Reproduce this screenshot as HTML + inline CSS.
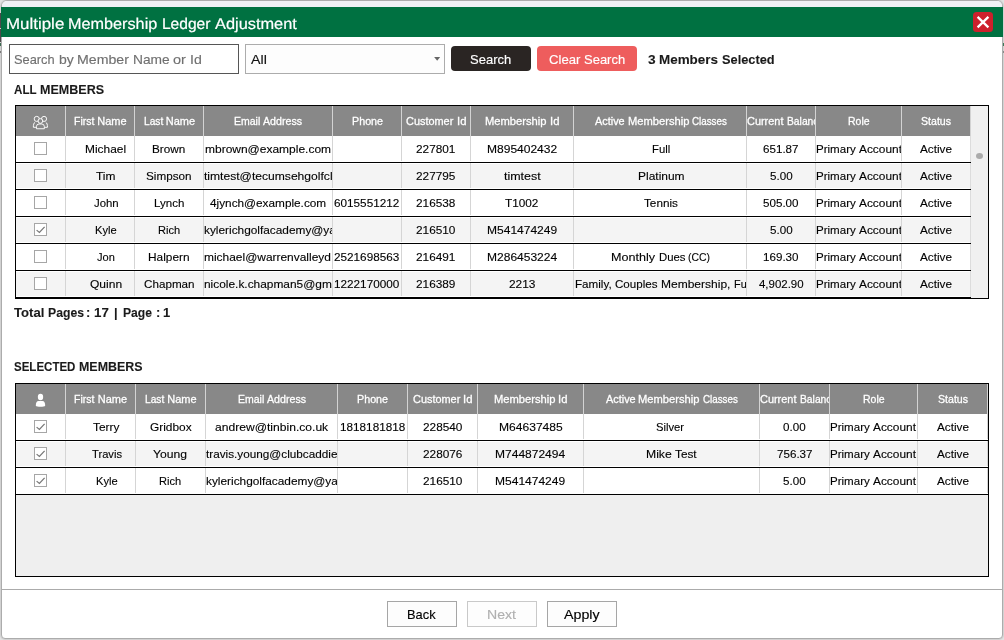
<!DOCTYPE html>
<html lang="en"><head><meta charset="utf-8">
<title>Multiple Membership Ledger Adjustment</title>
<style>
html,body{margin:0;padding:0;}
body{width:1004px;height:640px;overflow:hidden;background:#fff;position:relative;
 font-family:"Liberation Sans", sans-serif;}
#r{position:absolute;left:0;top:0;width:1004px;height:640px;overflow:hidden;background:#e2e2e2;}
#r div,#r svg,#r span,.g{position:absolute;box-sizing:border-box;}
.g{left:0;top:0;width:0;height:0;display:block;}
.win{left:1px;top:0;width:1002px;height:639px;border:1px solid #acacac;border-radius:6px 6px 4px 4px;
 background:#fff;box-shadow:0 0 0 1px #d2d2d2;}
.close{left:973px;top:12px;width:20px;height:20px;border-radius:3.5px;background:#cd202c;}
.inp{border:1px solid #565656;background:#fff;}
.cmb{border:1px solid #acacac;background:#fdfdfd;}
.btn-d{background:#2a2523;border-radius:4px;}
.btn-r{background:#ee5d5d;border-radius:4px;}
.cb{width:13px;height:13px;border:1px solid #a6a6a6;background:#fff;}
.fb{width:70px;height:26px;border:1px solid #a6a6a6;background:#fdfdfd;}
.fb.dis{border-color:#c9c9c9;}
.c{overflow:hidden;}
.t{white-space:nowrap;transform-origin:0 0;line-height:1;display:block;}
#r span.w{position:static;display:inline-block;transform-origin:0 0;white-space:nowrap;}
</style></head><body><div id="r">
<div class="g frame">
<div class="win"></div>
<div style="left:2px;top:1px;width:1000px;height:6px;background:#f0f1f5;border-radius:5px 5px 0 0;"></div>
<div style="left:1px;top:7px;width:1002px;height:30px;background:#007141;"></div>
<div style="left:0px;top:13px;width:1px;height:15px;background:#4a4a4a;"></div>
<div style="left:0px;top:29px;width:1px;height:13px;background:#4a4a4a;"></div>
<div style="left:0px;top:43px;width:1px;height:3px;background:#3c6a50;"></div>
<div style="left:0px;top:51px;width:1px;height:2px;background:#7a7a7a;"></div>
<div style="left:1003px;top:43px;width:1px;height:3px;background:#3c7a58;"></div>
<div style="left:1003px;top:51px;width:1px;height:2px;background:#8a8a8a;"></div>
</div>
<header class="g titlebar">
<div class="close"><svg width="20" height="20" viewBox="0 0 20 20"><path d="M4.6 4.9 L15.4 15.4 M15.4 4.9 L4.6 15.4" stroke="#fff" stroke-width="2.3" fill="none"/></svg></div>
<span class="t" style="left:5.6px;top:17px;font-size:15.6px;text-rendering:geometricPrecision;-webkit-text-stroke:0.2px #fff;color:#fff;"><span class="w m" style="width:58.29px;transform:scaleX(1.0848);">Multiple</span> <span class="w m" style="width:89.27px;margin-left:0.04px;transform:scaleX(1.0404);">Membership</span> <span class="w m" style="width:48.63px;margin-left:0.04px;">Ledger</span> <span class="w m" style="width:81.84px;margin-left:0.04px;transform:scaleX(1.0490);">Adjustment</span></span>
</header>
<div class="g toolbar">
<div class="inp" style="left:9px;top:44px;width:230px;height:30px;"></div>
<span class="t" style="left:14.4px;top:53px;font-size:13.5px;-webkit-text-stroke:0.15px #707070;color:#707070;"><span class="w m" style="width:40.6px;transform:scaleX(0.9490);">Search</span> <span class="w m" style="width:14.77px;margin-left:0.02px;transform:scaleX(1.0354);">by</span> <span class="w m" style="width:51.86px;margin-left:0.02px;transform:scaleX(1.0474);">Member</span> <span class="w m" style="width:36.68px;margin-left:0.02px;transform:scaleX(1.0185);">Name</span> <span class="w m" style="width:12.88px;margin-left:0.02px;transform:scaleX(1.0722);">or</span> <span class="w m" style="width:11.79px;margin-left:0.02px;transform:scaleX(1.0467);">Id</span></span>
<div class="cmb" style="left:245px;top:44px;width:200px;height:30px;"></div>
<svg style="left:433px;top:56px" width="9" height="6" viewBox="0 0 9 6"><path d="M1.15 1.1 L7.15 1.1 L4.15 4.75 Z" fill="#666"/></svg>
<span class="t m" style="left:250.6px;top:53px;font-size:13.5px;-webkit-text-stroke:0.15px #111;color:#111;transform:scaleX(1.0522);">All</span>
<div class="btn-d" style="left:451px;top:46px;width:80px;height:25px;"></div>
<span class="t m" style="left:470.4px;top:53px;font-size:13.5px;-webkit-text-stroke:0.15px #fff;color:#fff;transform:scaleX(0.9630);">Search</span>
<div class="btn-r" style="left:537px;top:46px;width:100px;height:25px;"></div>
<span class="t" style="left:548.6px;top:53px;font-size:13.5px;-webkit-text-stroke:0.15px #fff;color:#fff;"><span class="w m" style="width:31.38px;transform:scaleX(0.9725);">Clear</span> <span class="w m" style="width:41.19px;margin-left:0.07px;transform:scaleX(0.9627);">Search</span></span>
<span class="t" style="left:648px;top:53px;font-size:13px;-webkit-text-stroke:0.1px #1a1a1a;font-weight:700;color:#1a1a1a;"><span class="w m" style="width:7.61px;transform:scaleX(1.0518);">3</span> <span class="w m" style="width:59px;margin-left:0.24px;transform:scaleX(1.0337);">Members</span> <span class="w m" style="width:52.66px;margin-left:0.24px;transform:scaleX(0.9845);">Selected</span></span>
</div>
<section class="g grid all-members">
<span class="t" style="left:13.6px;top:83px;font-size:13px;-webkit-text-stroke:0.1px #1a1a1a;font-weight:700;color:#1a1a1a;"><span class="w m" style="width:22.56px;transform:scaleX(0.8925);">ALL</span> <span class="w m" style="width:64.14px;margin-left:0.27px;transform:scaleX(0.9652);">MEMBERS</span></span>
<div style="left:15px;top:105px;width:974px;height:194px;border:1px solid #000;background:#efefef"></div>
<div style="left:16px;top:106px;width:954px;height:30px;background:#888888;"></div>
<div style="left:970px;top:106px;width:18px;height:192px;background:#f0f0f0;"></div>
<div style="left:976px;top:153px;width:7px;height:6px;border-radius:3.5px/3px;background:#ababab"></div>
<div style="left:970px;top:136px;width:1px;height:162px;background:#dcdcdc;"></div>
<div style="left:16px;top:136px;width:954px;height:26px;background:#fff;"></div>
<div style="left:16px;top:162px;width:955px;height:1px;background:#000;"></div>
<div style="left:16px;top:163px;width:954px;height:26px;background:#fff;"></div>
<div style="left:16px;top:164px;width:954px;height:24px;background:#f4f4f4;"></div>
<div style="left:16px;top:189px;width:955px;height:1px;background:#000;"></div>
<div style="left:16px;top:190px;width:954px;height:26px;background:#fff;"></div>
<div style="left:16px;top:216px;width:955px;height:1px;background:#000;"></div>
<div style="left:16px;top:217px;width:954px;height:26px;background:#fff;"></div>
<div style="left:16px;top:218px;width:954px;height:24px;background:#f4f4f4;"></div>
<div style="left:16px;top:243px;width:955px;height:1px;background:#000;"></div>
<div style="left:16px;top:244px;width:954px;height:26px;background:#fff;"></div>
<div style="left:16px;top:270px;width:955px;height:1px;background:#000;"></div>
<div style="left:16px;top:271px;width:954px;height:26px;background:#fff;"></div>
<div style="left:16px;top:272px;width:954px;height:24px;background:#f4f4f4;"></div>
<div style="left:16px;top:297px;width:955px;height:1px;background:#000;"></div>
<div style="left:970px;top:106px;width:1px;height:30px;background:#d3d3d3;"></div>
<div style="left:65px;top:106px;width:1px;height:30px;background:#d3d3d3;"></div>
<div style="left:65px;top:136px;width:1px;height:25px;background:#d5d5d5;"></div>
<div style="left:65px;top:163px;width:1px;height:25px;background:#d5d5d5;"></div>
<div style="left:65px;top:190px;width:1px;height:25px;background:#d5d5d5;"></div>
<div style="left:65px;top:217px;width:1px;height:25px;background:#d5d5d5;"></div>
<div style="left:65px;top:244px;width:1px;height:25px;background:#d5d5d5;"></div>
<div style="left:65px;top:271px;width:1px;height:25px;background:#d5d5d5;"></div>
<div style="left:134px;top:106px;width:1px;height:30px;background:#d3d3d3;"></div>
<div style="left:134px;top:136px;width:1px;height:25px;background:#d5d5d5;"></div>
<div style="left:134px;top:163px;width:1px;height:25px;background:#d5d5d5;"></div>
<div style="left:134px;top:190px;width:1px;height:25px;background:#d5d5d5;"></div>
<div style="left:134px;top:217px;width:1px;height:25px;background:#d5d5d5;"></div>
<div style="left:134px;top:244px;width:1px;height:25px;background:#d5d5d5;"></div>
<div style="left:134px;top:271px;width:1px;height:25px;background:#d5d5d5;"></div>
<div style="left:203px;top:106px;width:1px;height:30px;background:#d3d3d3;"></div>
<div style="left:203px;top:136px;width:1px;height:25px;background:#d5d5d5;"></div>
<div style="left:203px;top:163px;width:1px;height:25px;background:#d5d5d5;"></div>
<div style="left:203px;top:190px;width:1px;height:25px;background:#d5d5d5;"></div>
<div style="left:203px;top:217px;width:1px;height:25px;background:#d5d5d5;"></div>
<div style="left:203px;top:244px;width:1px;height:25px;background:#d5d5d5;"></div>
<div style="left:203px;top:271px;width:1px;height:25px;background:#d5d5d5;"></div>
<div style="left:332px;top:106px;width:1px;height:30px;background:#d3d3d3;"></div>
<div style="left:332px;top:136px;width:1px;height:25px;background:#d5d5d5;"></div>
<div style="left:332px;top:163px;width:1px;height:25px;background:#d5d5d5;"></div>
<div style="left:332px;top:190px;width:1px;height:25px;background:#d5d5d5;"></div>
<div style="left:332px;top:217px;width:1px;height:25px;background:#d5d5d5;"></div>
<div style="left:332px;top:244px;width:1px;height:25px;background:#d5d5d5;"></div>
<div style="left:332px;top:271px;width:1px;height:25px;background:#d5d5d5;"></div>
<div style="left:401px;top:106px;width:1px;height:30px;background:#d3d3d3;"></div>
<div style="left:401px;top:136px;width:1px;height:25px;background:#d5d5d5;"></div>
<div style="left:401px;top:163px;width:1px;height:25px;background:#d5d5d5;"></div>
<div style="left:401px;top:190px;width:1px;height:25px;background:#d5d5d5;"></div>
<div style="left:401px;top:217px;width:1px;height:25px;background:#d5d5d5;"></div>
<div style="left:401px;top:244px;width:1px;height:25px;background:#d5d5d5;"></div>
<div style="left:401px;top:271px;width:1px;height:25px;background:#d5d5d5;"></div>
<div style="left:470px;top:106px;width:1px;height:30px;background:#d3d3d3;"></div>
<div style="left:470px;top:136px;width:1px;height:25px;background:#d5d5d5;"></div>
<div style="left:470px;top:163px;width:1px;height:25px;background:#d5d5d5;"></div>
<div style="left:470px;top:190px;width:1px;height:25px;background:#d5d5d5;"></div>
<div style="left:470px;top:217px;width:1px;height:25px;background:#d5d5d5;"></div>
<div style="left:470px;top:244px;width:1px;height:25px;background:#d5d5d5;"></div>
<div style="left:470px;top:271px;width:1px;height:25px;background:#d5d5d5;"></div>
<div style="left:573px;top:106px;width:1px;height:30px;background:#d3d3d3;"></div>
<div style="left:573px;top:136px;width:1px;height:25px;background:#d5d5d5;"></div>
<div style="left:573px;top:163px;width:1px;height:25px;background:#d5d5d5;"></div>
<div style="left:573px;top:190px;width:1px;height:25px;background:#d5d5d5;"></div>
<div style="left:573px;top:217px;width:1px;height:25px;background:#d5d5d5;"></div>
<div style="left:573px;top:244px;width:1px;height:25px;background:#d5d5d5;"></div>
<div style="left:573px;top:271px;width:1px;height:25px;background:#d5d5d5;"></div>
<div style="left:746px;top:106px;width:1px;height:30px;background:#d3d3d3;"></div>
<div style="left:746px;top:136px;width:1px;height:25px;background:#d5d5d5;"></div>
<div style="left:746px;top:163px;width:1px;height:25px;background:#d5d5d5;"></div>
<div style="left:746px;top:190px;width:1px;height:25px;background:#d5d5d5;"></div>
<div style="left:746px;top:217px;width:1px;height:25px;background:#d5d5d5;"></div>
<div style="left:746px;top:244px;width:1px;height:25px;background:#d5d5d5;"></div>
<div style="left:746px;top:271px;width:1px;height:25px;background:#d5d5d5;"></div>
<div style="left:815px;top:106px;width:1px;height:30px;background:#d3d3d3;"></div>
<div style="left:815px;top:136px;width:1px;height:25px;background:#d5d5d5;"></div>
<div style="left:815px;top:163px;width:1px;height:25px;background:#d5d5d5;"></div>
<div style="left:815px;top:190px;width:1px;height:25px;background:#d5d5d5;"></div>
<div style="left:815px;top:217px;width:1px;height:25px;background:#d5d5d5;"></div>
<div style="left:815px;top:244px;width:1px;height:25px;background:#d5d5d5;"></div>
<div style="left:815px;top:271px;width:1px;height:25px;background:#d5d5d5;"></div>
<div style="left:901px;top:106px;width:1px;height:30px;background:#d3d3d3;"></div>
<div style="left:901px;top:136px;width:1px;height:25px;background:#d5d5d5;"></div>
<div style="left:901px;top:163px;width:1px;height:25px;background:#d5d5d5;"></div>
<div style="left:901px;top:190px;width:1px;height:25px;background:#d5d5d5;"></div>
<div style="left:901px;top:217px;width:1px;height:25px;background:#d5d5d5;"></div>
<div style="left:901px;top:244px;width:1px;height:25px;background:#d5d5d5;"></div>
<div style="left:901px;top:271px;width:1px;height:25px;background:#d5d5d5;"></div>
<span class="t" style="left:73.96px;top:116px;font-size:11px;-webkit-text-stroke:0.28px #ffffff;color:#ffffff;"><span class="w m" style="width:20.32px;transform:scaleX(0.9500);">First</span> <span class="w m" style="width:29.34px;margin-left:-0.04px;">Name</span></span>
<span class="t" style="left:143.5px;top:116px;font-size:11px;-webkit-text-stroke:0.28px #ffffff;color:#ffffff;"><span class="w m" style="width:19.24px;transform:scaleX(0.9251);">Last</span> <span class="w m" style="width:29.34px;margin-left:-0.04px;">Name</span></span>
<span class="t" style="left:234.16px;top:116px;font-size:11px;-webkit-text-stroke:0.28px #ffffff;color:#ffffff;"><span class="w m" style="width:26.22px;transform:scaleX(0.9528);">Email</span> <span class="w m" style="width:39.04px;margin-left:-0.04px;transform:scaleX(0.9673);">Address</span></span>
<span class="t m" style="left:351.76px;top:116px;font-size:11px;-webkit-text-stroke:0.28px #ffffff;color:#ffffff;transform:scaleX(0.9768);">Phone</span>
<span class="t" style="left:406.43px;top:116px;font-size:11px;-webkit-text-stroke:0.28px #ffffff;color:#ffffff;"><span class="w m" style="width:47.28px;transform:scaleX(0.9915);">Customer</span> <span class="w m" style="width:9.43px;margin-left:-0.04px;transform:scaleX(1.0259);">Id</span></span>
<span class="t" style="left:485.31px;top:116px;font-size:11px;-webkit-text-stroke:0.28px #ffffff;color:#ffffff;"><span class="w m" style="width:61.54px;transform:scaleX(1.0166);">Membership</span> <span class="w m" style="width:9.42px;margin-left:-0.04px;transform:scaleX(1.0253);">Id</span></span>
<span class="t" style="left:595px;top:116px;font-size:11px;-webkit-text-stroke:0.28px #ffffff;color:#ffffff;"><span class="w m" style="width:29.63px;transform:scaleX(0.9888);">Active</span> <span class="w m" style="width:61.46px;margin-left:-0.04px;transform:scaleX(1.0154);">Membership</span> <span class="w m" style="width:34.86px;margin-left:-0.04px;transform:scaleX(0.8911);">Classes</span></span>
<div class="c" style="left:747px;top:106px;width:68px;height:30px"><span class="t" style="left:0.3px;top:10px;font-size:11px;-webkit-text-stroke:0.28px #ffffff;color:#ffffff;"><span class="w m" style="width:36.44px;transform:scaleX(0.9933);">Current</span> <span class="w m" style="width:31.5px;margin-left:-0.05px;transform:scaleX(0.9364);">Balanc</span></span></div>
<span class="t m" style="left:847.98px;top:116px;font-size:11px;-webkit-text-stroke:0.28px #ffffff;color:#ffffff;transform:scaleX(0.9565);">Role</span>
<span class="t m" style="left:921.3px;top:116px;font-size:11px;-webkit-text-stroke:0.28px #ffffff;color:#ffffff;transform:scaleX(0.9622);">Status</span>
<svg style="left:32px;top:106px" width="18" height="30" viewBox="0 0 18 30" fill="none" stroke="#fff" stroke-width="0.95"><circle cx="4.75" cy="12.9" r="2.55"/><circle cx="12.05" cy="12.9" r="2.55"/><path d="M3.0 16.3 C1.7 17.1 1.35 18.6 1.35 21.3 H4.3"/><path d="M13.8 16.3 C15.1 17.1 15.45 18.6 15.45 21.3 H12.5"/><circle cx="8.4" cy="15.0" r="2.35" fill="#888"/><path d="M4.45 22.75 V20.6 A2.6 2.6 0 0 1 7.05 18 H9.75 A2.6 2.6 0 0 1 12.35 20.6 V22.75 Z" fill="#888" stroke-linejoin="round"/></svg>
<div class="cb" style="left:34px;top:142px"></div>
<span class="t m" style="left:85.48px;top:144px;font-size:11.5px;-webkit-text-stroke:0.12px #000000;color:#000000;transform:scaleX(1.0352);">Michael</span>
<span class="t m" style="left:152.38px;top:144px;font-size:11.5px;-webkit-text-stroke:0.12px #000000;color:#000000;transform:scaleX(1.0193);">Brown</span>
<span class="t m" style="left:204.97px;top:144px;font-size:11.5px;-webkit-text-stroke:0.12px #000000;color:#000000;transform:scaleX(1.0421);">mbrown@example.com</span>
<span class="t m" style="left:416.29px;top:144px;font-size:11.5px;-webkit-text-stroke:0.12px #000000;color:#000000;transform:scaleX(1.0270);">227801</span>
<span class="t m" style="left:486.9px;top:144px;font-size:11.5px;-webkit-text-stroke:0.12px #000000;color:#000000;transform:scaleX(1.0452);">M895402432</span>
<span class="t m" style="left:651.7px;top:144px;font-size:11.5px;-webkit-text-stroke:0.12px #000000;color:#000000;transform:scaleX(0.9820);">Full</span>
<span class="t m" style="left:763.23px;top:144px;font-size:11.5px;-webkit-text-stroke:0.12px #000000;color:#000000;transform:scaleX(1.0102);">651.87</span>
<div class="c" style="left:816px;top:136px;width:85px;height:26px"><span class="t" style="left:0.1px;top:8px;font-size:11.5px;-webkit-text-stroke:0.12px #000000;color:#000000;"><span class="w m" style="width:39.8px;transform:scaleX(1.0045);">Primary</span> <span class="w m" style="width:42.96px;margin-left:0.04px;transform:scaleX(1.0335);">Account</span></span></div>
<span class="t m" style="left:920.01px;top:144px;font-size:11.5px;-webkit-text-stroke:0.12px #000000;color:#000000;transform:scaleX(1.0208);">Active</span>
<div class="cb" style="left:34px;top:169px"></div>
<span class="t m" style="left:96.29px;top:171px;font-size:11.5px;-webkit-text-stroke:0.12px #000000;color:#000000;transform:scaleX(1.0367);">Tim</span>
<span class="t m" style="left:146.25px;top:171px;font-size:11.5px;-webkit-text-stroke:0.12px #000000;color:#000000;transform:scaleX(1.0168);">Simpson</span>
<div class="c" style="left:204px;top:163px;width:128px;height:26px"><span class="t m" style="left:0.3px;top:8px;font-size:11.5px;-webkit-text-stroke:0.12px #000000;color:#000000;transform:scaleX(1.0518);">timtest@tecumsehgolfcl</span></div>
<span class="t m" style="left:416.29px;top:171px;font-size:11.5px;-webkit-text-stroke:0.12px #000000;color:#000000;transform:scaleX(1.0270);">227795</span>
<span class="t m" style="left:503.65px;top:171px;font-size:11.5px;-webkit-text-stroke:0.12px #000000;color:#000000;transform:scaleX(1.0833);">timtest</span>
<span class="t m" style="left:637.51px;top:171px;font-size:11.5px;-webkit-text-stroke:0.12px #000000;color:#000000;transform:scaleX(1.0410);">Platinum</span>
<span class="t m" style="left:769.7px;top:171px;font-size:11.5px;-webkit-text-stroke:0.12px #000000;color:#000000;transform:scaleX(1.0097);">5.00</span>
<div class="c" style="left:816px;top:163px;width:85px;height:26px"><span class="t" style="left:0.1px;top:8px;font-size:11.5px;-webkit-text-stroke:0.12px #000000;color:#000000;"><span class="w m" style="width:39.8px;transform:scaleX(1.0045);">Primary</span> <span class="w m" style="width:42.96px;margin-left:0.04px;transform:scaleX(1.0335);">Account</span></span></div>
<span class="t m" style="left:920.01px;top:171px;font-size:11.5px;-webkit-text-stroke:0.12px #000000;color:#000000;transform:scaleX(1.0208);">Active</span>
<div class="cb" style="left:34px;top:196px"></div>
<span class="t m" style="left:93.67px;top:198px;font-size:11.5px;-webkit-text-stroke:0.12px #000000;color:#000000;transform:scaleX(0.9889);">John</span>
<span class="t m" style="left:153.84px;top:198px;font-size:11.5px;-webkit-text-stroke:0.12px #000000;color:#000000;transform:scaleX(1.0020);">Lynch</span>
<span class="t m" style="left:209.91px;top:198px;font-size:11.5px;-webkit-text-stroke:0.12px #000000;color:#000000;transform:scaleX(1.0253);">4jynch@example.com</span>
<span class="t m" style="left:334.36px;top:198px;font-size:11.5px;-webkit-text-stroke:0.12px #000000;color:#000000;transform:scaleX(1.0206);">6015551212</span>
<span class="t m" style="left:416.29px;top:198px;font-size:11.5px;-webkit-text-stroke:0.12px #000000;color:#000000;transform:scaleX(1.0270);">216538</span>
<span class="t m" style="left:505.32px;top:198px;font-size:11.5px;-webkit-text-stroke:0.12px #000000;color:#000000;transform:scaleX(1.0231);">T1002</span>
<span class="t m" style="left:643.85px;top:198px;font-size:11.5px;-webkit-text-stroke:0.12px #000000;color:#000000;transform:scaleX(1.0198);">Tennis</span>
<span class="t m" style="left:763.23px;top:198px;font-size:11.5px;-webkit-text-stroke:0.12px #000000;color:#000000;transform:scaleX(1.0102);">505.00</span>
<div class="c" style="left:816px;top:190px;width:85px;height:26px"><span class="t" style="left:0.1px;top:8px;font-size:11.5px;-webkit-text-stroke:0.12px #000000;color:#000000;"><span class="w m" style="width:39.8px;transform:scaleX(1.0045);">Primary</span> <span class="w m" style="width:42.96px;margin-left:0.04px;transform:scaleX(1.0335);">Account</span></span></div>
<span class="t m" style="left:920.01px;top:198px;font-size:11.5px;-webkit-text-stroke:0.12px #000000;color:#000000;transform:scaleX(1.0208);">Active</span>
<div class="cb" style="left:34px;top:223px"></div>
<svg style="left:34px;top:223px" width="13" height="13" viewBox="0 0 13 13"><path d="M2.6 7.1 L5.4 9.5 L10.6 3.8" stroke="#777" stroke-width="1.25" fill="none"/></svg>
<span class="t m" style="left:95.19px;top:225px;font-size:11.5px;-webkit-text-stroke:0.12px #000000;color:#000000;transform:scaleX(0.9665);">Kyle</span>
<span class="t m" style="left:157.92px;top:225px;font-size:11.5px;-webkit-text-stroke:0.12px #000000;color:#000000;transform:scaleX(0.9625);">Rich</span>
<div class="c" style="left:204px;top:217px;width:128px;height:26px"><span class="t m" style="left:0.3px;top:8px;font-size:11.5px;-webkit-text-stroke:0.12px #000000;color:#000000;transform:scaleX(1.0300);">kylerichgolfacademy@ya</span></div>
<span class="t m" style="left:416.29px;top:225px;font-size:11.5px;-webkit-text-stroke:0.12px #000000;color:#000000;transform:scaleX(1.0270);">216510</span>
<span class="t m" style="left:486.9px;top:225px;font-size:11.5px;-webkit-text-stroke:0.12px #000000;color:#000000;transform:scaleX(1.0452);">M541474249</span>
<span class="t m" style="left:769.7px;top:225px;font-size:11.5px;-webkit-text-stroke:0.12px #000000;color:#000000;transform:scaleX(1.0097);">5.00</span>
<div class="c" style="left:816px;top:217px;width:85px;height:26px"><span class="t" style="left:0.1px;top:8px;font-size:11.5px;-webkit-text-stroke:0.12px #000000;color:#000000;"><span class="w m" style="width:39.8px;transform:scaleX(1.0045);">Primary</span> <span class="w m" style="width:42.96px;margin-left:0.04px;transform:scaleX(1.0335);">Account</span></span></div>
<span class="t m" style="left:920.01px;top:225px;font-size:11.5px;-webkit-text-stroke:0.12px #000000;color:#000000;transform:scaleX(1.0208);">Active</span>
<div class="cb" style="left:34px;top:250px"></div>
<span class="t m" style="left:97.08px;top:252px;font-size:11.5px;-webkit-text-stroke:0.12px #000000;color:#000000;transform:scaleX(0.9616);">Jon</span>
<span class="t m" style="left:148.22px;top:252px;font-size:11.5px;-webkit-text-stroke:0.12px #000000;color:#000000;transform:scaleX(1.0316);">Halpern</span>
<div class="c" style="left:204px;top:244px;width:128px;height:26px"><span class="t m" style="left:0.3px;top:8px;font-size:11.5px;-webkit-text-stroke:0.12px #000000;color:#000000;transform:scaleX(1.0381);">michael@warrenvalleyd</span></div>
<span class="t m" style="left:334.36px;top:252px;font-size:11.5px;-webkit-text-stroke:0.12px #000000;color:#000000;transform:scaleX(1.0206);">2521698563</span>
<span class="t m" style="left:416.29px;top:252px;font-size:11.5px;-webkit-text-stroke:0.12px #000000;color:#000000;transform:scaleX(1.0270);">216491</span>
<span class="t m" style="left:486.9px;top:252px;font-size:11.5px;-webkit-text-stroke:0.12px #000000;color:#000000;transform:scaleX(1.0452);">M286453224</span>
<span class="t" style="left:611.2px;top:252px;font-size:11.5px;-webkit-text-stroke:0.12px #000000;color:#000000;"><span class="w m" style="width:44.08px;transform:scaleX(1.0943);">Monthly</span> <span class="w m" style="width:26.52px;margin-left:0.07px;transform:scaleX(0.9874);">Dues</span> <span class="w m" style="width:22.03px;margin-left:0.07px;transform:scaleX(0.9075);">(CC)</span></span>
<span class="t m" style="left:763.23px;top:252px;font-size:11.5px;-webkit-text-stroke:0.12px #000000;color:#000000;transform:scaleX(1.0102);">169.30</span>
<div class="c" style="left:816px;top:244px;width:85px;height:26px"><span class="t" style="left:0.1px;top:8px;font-size:11.5px;-webkit-text-stroke:0.12px #000000;color:#000000;"><span class="w m" style="width:39.8px;transform:scaleX(1.0045);">Primary</span> <span class="w m" style="width:42.96px;margin-left:0.04px;transform:scaleX(1.0335);">Account</span></span></div>
<span class="t m" style="left:920.01px;top:252px;font-size:11.5px;-webkit-text-stroke:0.12px #000000;color:#000000;transform:scaleX(1.0208);">Active</span>
<div class="cb" style="left:34px;top:277px"></div>
<span class="t m" style="left:89.94px;top:279px;font-size:11.5px;-webkit-text-stroke:0.12px #000000;color:#000000;transform:scaleX(1.0469);">Quinn</span>
<span class="t m" style="left:143.71px;top:279px;font-size:11.5px;-webkit-text-stroke:0.12px #000000;color:#000000;transform:scaleX(1.0141);">Chapman</span>
<div class="c" style="left:204px;top:271px;width:128px;height:26px"><span class="t m" style="left:0.3px;top:8px;font-size:11.5px;-webkit-text-stroke:0.12px #000000;color:#000000;transform:scaleX(1.0348);">nicole.k.chapman5@gm</span></div>
<span class="t m" style="left:334.36px;top:279px;font-size:11.5px;-webkit-text-stroke:0.12px #000000;color:#000000;transform:scaleX(1.0206);">1222170000</span>
<span class="t m" style="left:416.29px;top:279px;font-size:11.5px;-webkit-text-stroke:0.12px #000000;color:#000000;transform:scaleX(1.0270);">216389</span>
<span class="t m" style="left:508.76px;top:279px;font-size:11.5px;-webkit-text-stroke:0.12px #000000;color:#000000;transform:scaleX(1.0344);">2213</span>
<div class="c" style="left:574px;top:271px;width:172px;height:26px"><span class="t" style="left:1.1px;top:8px;font-size:11.5px;-webkit-text-stroke:0.12px #000000;color:#000000;"><span class="w m" style="width:36.63px;transform:scaleX(1.0117);">Family,</span> <span class="w m" style="width:42.53px;margin-left:0.08px;transform:scaleX(1.0079);">Couples</span> <span class="w m" style="width:69.43px;margin-left:0.08px;transform:scaleX(1.0445);">Membership,</span> <span class="w m" style="width:12.66px;margin-left:0.08px;transform:scaleX(0.9435);">Fu</span></span></div>
<span class="t m" style="left:758.69px;top:279px;font-size:11.5px;-webkit-text-stroke:0.12px #000000;color:#000000;transform:scaleX(0.9966);">4,902.90</span>
<div class="c" style="left:816px;top:271px;width:85px;height:26px"><span class="t" style="left:0.1px;top:8px;font-size:11.5px;-webkit-text-stroke:0.12px #000000;color:#000000;"><span class="w m" style="width:39.8px;transform:scaleX(1.0045);">Primary</span> <span class="w m" style="width:42.96px;margin-left:0.04px;transform:scaleX(1.0335);">Account</span></span></div>
<span class="t m" style="left:920.01px;top:279px;font-size:11.5px;-webkit-text-stroke:0.12px #000000;color:#000000;transform:scaleX(1.0208);">Active</span>
<span class="t" style="left:14px;top:306px;font-size:13px;-webkit-text-stroke:0.1px #1a1a1a;font-weight:700;color:#1a1a1a;"><span class="w m" style="width:30.3px;transform:scaleX(1.0069);">Total</span> <span class="w m" style="width:36px;margin-left:0.38px;transform:scaleX(0.9396);">Pages</span> <span class="w m" style="width:4.3px;margin-left:-1.92px;transform:scaleX(0.9899);">:</span> <span class="w m" style="width:14.8px;margin-left:0.48px;transform:scaleX(1.0229);">17</span> <span class="w m" style="width:3.6px;margin-left:1.08px;transform:scaleX(0.9888);">|</span> <span class="w m" style="width:29px;margin-left:1.67px;transform:scaleX(0.9331);">Page</span> <span class="w m" style="width:4.3px;margin-left:0.17px;transform:scaleX(0.9899);">:</span> <span class="w m" style="width:7.2px;margin-left:-0.53px;transform:scaleX(0.9952);">1</span></span>
</section>
<section class="g grid selected-members">
<span class="t" style="left:13.6px;top:360px;font-size:13px;-webkit-text-stroke:0.1px #1a1a1a;font-weight:700;color:#1a1a1a;"><span class="w m" style="width:61.44px;transform:scaleX(0.8860);">SELECTED</span> <span class="w m" style="width:63.5px;margin-left:0.23px;transform:scaleX(0.9556);">MEMBERS</span></span>
<div style="left:15px;top:383px;width:974px;height:194px;border:1px solid #000;background:#efefef"></div>
<div style="left:16px;top:384px;width:972px;height:30px;background:#888888;"></div>
<div style="left:16px;top:414px;width:972px;height:26px;background:#fff;"></div>
<div style="left:16px;top:440px;width:972px;height:1px;background:#000;"></div>
<div style="left:16px;top:441px;width:972px;height:26px;background:#fff;"></div>
<div style="left:16px;top:442px;width:972px;height:24px;background:#f4f4f4;"></div>
<div style="left:16px;top:467px;width:972px;height:1px;background:#000;"></div>
<div style="left:16px;top:468px;width:972px;height:26px;background:#fff;"></div>
<div style="left:16px;top:494px;width:972px;height:1px;background:#000;"></div>
<div style="left:987px;top:384px;width:1px;height:30px;background:#d3d3d3;"></div>
<div style="left:987px;top:414px;width:1px;height:25px;background:#d5d5d5;"></div>
<div style="left:987px;top:441px;width:1px;height:25px;background:#d5d5d5;"></div>
<div style="left:987px;top:468px;width:1px;height:25px;background:#d5d5d5;"></div>
<div style="left:65px;top:384px;width:1px;height:30px;background:#d3d3d3;"></div>
<div style="left:65px;top:414px;width:1px;height:25px;background:#d5d5d5;"></div>
<div style="left:65px;top:441px;width:1px;height:25px;background:#d5d5d5;"></div>
<div style="left:65px;top:468px;width:1px;height:25px;background:#d5d5d5;"></div>
<div style="left:135px;top:384px;width:1px;height:30px;background:#d3d3d3;"></div>
<div style="left:135px;top:414px;width:1px;height:25px;background:#d5d5d5;"></div>
<div style="left:135px;top:441px;width:1px;height:25px;background:#d5d5d5;"></div>
<div style="left:135px;top:468px;width:1px;height:25px;background:#d5d5d5;"></div>
<div style="left:205px;top:384px;width:1px;height:30px;background:#d3d3d3;"></div>
<div style="left:205px;top:414px;width:1px;height:25px;background:#d5d5d5;"></div>
<div style="left:205px;top:441px;width:1px;height:25px;background:#d5d5d5;"></div>
<div style="left:205px;top:468px;width:1px;height:25px;background:#d5d5d5;"></div>
<div style="left:337px;top:384px;width:1px;height:30px;background:#d3d3d3;"></div>
<div style="left:337px;top:414px;width:1px;height:25px;background:#d5d5d5;"></div>
<div style="left:337px;top:441px;width:1px;height:25px;background:#d5d5d5;"></div>
<div style="left:337px;top:468px;width:1px;height:25px;background:#d5d5d5;"></div>
<div style="left:407px;top:384px;width:1px;height:30px;background:#d3d3d3;"></div>
<div style="left:407px;top:414px;width:1px;height:25px;background:#d5d5d5;"></div>
<div style="left:407px;top:441px;width:1px;height:25px;background:#d5d5d5;"></div>
<div style="left:407px;top:468px;width:1px;height:25px;background:#d5d5d5;"></div>
<div style="left:477px;top:384px;width:1px;height:30px;background:#d3d3d3;"></div>
<div style="left:477px;top:414px;width:1px;height:25px;background:#d5d5d5;"></div>
<div style="left:477px;top:441px;width:1px;height:25px;background:#d5d5d5;"></div>
<div style="left:477px;top:468px;width:1px;height:25px;background:#d5d5d5;"></div>
<div style="left:583px;top:384px;width:1px;height:30px;background:#d3d3d3;"></div>
<div style="left:583px;top:414px;width:1px;height:25px;background:#d5d5d5;"></div>
<div style="left:583px;top:441px;width:1px;height:25px;background:#d5d5d5;"></div>
<div style="left:583px;top:468px;width:1px;height:25px;background:#d5d5d5;"></div>
<div style="left:759px;top:384px;width:1px;height:30px;background:#d3d3d3;"></div>
<div style="left:759px;top:414px;width:1px;height:25px;background:#d5d5d5;"></div>
<div style="left:759px;top:441px;width:1px;height:25px;background:#d5d5d5;"></div>
<div style="left:759px;top:468px;width:1px;height:25px;background:#d5d5d5;"></div>
<div style="left:829px;top:384px;width:1px;height:30px;background:#d3d3d3;"></div>
<div style="left:829px;top:414px;width:1px;height:25px;background:#d5d5d5;"></div>
<div style="left:829px;top:441px;width:1px;height:25px;background:#d5d5d5;"></div>
<div style="left:829px;top:468px;width:1px;height:25px;background:#d5d5d5;"></div>
<div style="left:917px;top:384px;width:1px;height:30px;background:#d3d3d3;"></div>
<div style="left:917px;top:414px;width:1px;height:25px;background:#d5d5d5;"></div>
<div style="left:917px;top:441px;width:1px;height:25px;background:#d5d5d5;"></div>
<div style="left:917px;top:468px;width:1px;height:25px;background:#d5d5d5;"></div>
<span class="t" style="left:74.46px;top:394px;font-size:11px;-webkit-text-stroke:0.28px #ffffff;color:#ffffff;"><span class="w m" style="width:20.32px;transform:scaleX(0.9500);">First</span> <span class="w m" style="width:29.34px;margin-left:-0.04px;">Name</span></span>
<span class="t" style="left:145px;top:394px;font-size:11px;-webkit-text-stroke:0.28px #ffffff;color:#ffffff;"><span class="w m" style="width:19.24px;transform:scaleX(0.9251);">Last</span> <span class="w m" style="width:29.34px;margin-left:-0.04px;">Name</span></span>
<span class="t" style="left:237.66px;top:394px;font-size:11px;-webkit-text-stroke:0.28px #ffffff;color:#ffffff;"><span class="w m" style="width:26.22px;transform:scaleX(0.9528);">Email</span> <span class="w m" style="width:39.04px;margin-left:-0.04px;transform:scaleX(0.9673);">Address</span></span>
<span class="t m" style="left:357.26px;top:394px;font-size:11px;-webkit-text-stroke:0.28px #ffffff;color:#ffffff;transform:scaleX(0.9768);">Phone</span>
<span class="t" style="left:412.93px;top:394px;font-size:11px;-webkit-text-stroke:0.28px #ffffff;color:#ffffff;"><span class="w m" style="width:47.28px;transform:scaleX(0.9915);">Customer</span> <span class="w m" style="width:9.43px;margin-left:-0.04px;transform:scaleX(1.0259);">Id</span></span>
<span class="t" style="left:493.81px;top:394px;font-size:11px;-webkit-text-stroke:0.28px #ffffff;color:#ffffff;"><span class="w m" style="width:61.54px;transform:scaleX(1.0166);">Membership</span> <span class="w m" style="width:9.42px;margin-left:-0.04px;transform:scaleX(1.0253);">Id</span></span>
<span class="t" style="left:605.8px;top:394px;font-size:11px;-webkit-text-stroke:0.28px #ffffff;color:#ffffff;"><span class="w m" style="width:29.63px;transform:scaleX(0.9888);">Active</span> <span class="w m" style="width:61.46px;margin-left:-0.04px;transform:scaleX(1.0154);">Membership</span> <span class="w m" style="width:34.86px;margin-left:-0.04px;transform:scaleX(0.8911);">Classes</span></span>
<div class="c" style="left:760px;top:384px;width:69px;height:30px"><span class="t" style="left:0.3px;top:10px;font-size:11px;-webkit-text-stroke:0.28px #ffffff;color:#ffffff;"><span class="w m" style="width:36.44px;transform:scaleX(0.9933);">Current</span> <span class="w m" style="width:31.5px;margin-left:-0.05px;transform:scaleX(0.9364);">Balanc</span></span></div>
<span class="t m" style="left:862.98px;top:394px;font-size:11px;-webkit-text-stroke:0.28px #ffffff;color:#ffffff;transform:scaleX(0.9565);">Role</span>
<span class="t m" style="left:938.3px;top:394px;font-size:11px;-webkit-text-stroke:0.28px #ffffff;color:#ffffff;transform:scaleX(0.9622);">Status</span>
<svg style="left:32px;top:384px" width="18" height="30" viewBox="0 0 18 30" fill="#fff"><ellipse cx="8.5" cy="13.05" rx="2.65" ry="3.2"/><path d="M3.85 22.1 C3.7 18.5 4.8 17.05 6.5 17.05 L10.5 17.05 C12.2 17.05 13.3 18.5 13.15 22.1 C12.4 23.1 4.6 23.1 3.85 22.1 Z"/></svg>
<div class="cb" style="left:34px;top:420px"></div>
<svg style="left:34px;top:420px" width="13" height="13" viewBox="0 0 13 13"><path d="M2.6 7.1 L5.4 9.5 L10.6 3.8" stroke="#777" stroke-width="1.25" fill="none"/></svg>
<span class="t m" style="left:93.31px;top:422px;font-size:11.5px;-webkit-text-stroke:0.12px #000000;color:#000000;transform:scaleX(1.0319);">Terry</span>
<span class="t m" style="left:149.67px;top:422px;font-size:11.5px;-webkit-text-stroke:0.12px #000000;color:#000000;transform:scaleX(1.0343);">Gridbox</span>
<span class="t m" style="left:214.92px;top:422px;font-size:11.5px;-webkit-text-stroke:0.12px #000000;color:#000000;transform:scaleX(1.0520);">andrew@tinbin.co.uk</span>
<span class="t m" style="left:339.86px;top:422px;font-size:11.5px;-webkit-text-stroke:0.12px #000000;color:#000000;transform:scaleX(1.0206);">1818181818</span>
<span class="t m" style="left:422.79px;top:422px;font-size:11.5px;-webkit-text-stroke:0.12px #000000;color:#000000;transform:scaleX(1.0270);">228540</span>
<span class="t m" style="left:498.64px;top:422px;font-size:11.5px;-webkit-text-stroke:0.12px #000000;color:#000000;transform:scaleX(1.0490);">M64637485</span>
<span class="t m" style="left:655.76px;top:422px;font-size:11.5px;-webkit-text-stroke:0.12px #000000;color:#000000;transform:scaleX(0.9759);">Silver</span>
<span class="t m" style="left:783.2px;top:422px;font-size:11.5px;-webkit-text-stroke:0.12px #000000;color:#000000;transform:scaleX(1.0097);">0.00</span>
<div class="c" style="left:830px;top:414px;width:87px;height:26px"><span class="t" style="left:0.1px;top:8px;font-size:11.5px;-webkit-text-stroke:0.12px #000000;color:#000000;"><span class="w m" style="width:39.8px;transform:scaleX(1.0045);">Primary</span> <span class="w m" style="width:42.96px;margin-left:0.04px;transform:scaleX(1.0335);">Account</span></span></div>
<span class="t m" style="left:937.01px;top:422px;font-size:11.5px;-webkit-text-stroke:0.12px #000000;color:#000000;transform:scaleX(1.0208);">Active</span>
<div class="cb" style="left:34px;top:447px"></div>
<svg style="left:34px;top:447px" width="13" height="13" viewBox="0 0 13 13"><path d="M2.6 7.1 L5.4 9.5 L10.6 3.8" stroke="#777" stroke-width="1.25" fill="none"/></svg>
<span class="t m" style="left:91.5px;top:449px;font-size:11.5px;-webkit-text-stroke:0.12px #000000;color:#000000;transform:scaleX(0.9711);">Travis</span>
<span class="t m" style="left:153.46px;top:449px;font-size:11.5px;-webkit-text-stroke:0.12px #000000;color:#000000;transform:scaleX(1.0580);">Young</span>
<div class="c" style="left:206px;top:441px;width:131px;height:26px"><span class="t m" style="left:0.3px;top:8px;font-size:11.5px;-webkit-text-stroke:0.12px #000000;color:#000000;transform:scaleX(1.0214);">travis.young@clubcaddie</span></div>
<span class="t m" style="left:422.79px;top:449px;font-size:11.5px;-webkit-text-stroke:0.12px #000000;color:#000000;transform:scaleX(1.0270);">228076</span>
<span class="t m" style="left:495.4px;top:449px;font-size:11.5px;-webkit-text-stroke:0.12px #000000;color:#000000;transform:scaleX(1.0452);">M744872494</span>
<span class="t" style="left:646.19px;top:449px;font-size:11.5px;-webkit-text-stroke:0.12px #000000;color:#000000;"><span class="w m" style="width:25.76px;transform:scaleX(1.0608);">Mike</span> <span class="w m" style="width:21.59px;margin-left:0.06px;transform:scaleX(1.0234);">Test</span></span>
<span class="t m" style="left:776.73px;top:449px;font-size:11.5px;-webkit-text-stroke:0.12px #000000;color:#000000;transform:scaleX(1.0102);">756.37</span>
<div class="c" style="left:830px;top:441px;width:87px;height:26px"><span class="t" style="left:0.1px;top:8px;font-size:11.5px;-webkit-text-stroke:0.12px #000000;color:#000000;"><span class="w m" style="width:39.8px;transform:scaleX(1.0045);">Primary</span> <span class="w m" style="width:42.96px;margin-left:0.04px;transform:scaleX(1.0335);">Account</span></span></div>
<span class="t m" style="left:937.01px;top:449px;font-size:11.5px;-webkit-text-stroke:0.12px #000000;color:#000000;transform:scaleX(1.0208);">Active</span>
<div class="cb" style="left:34px;top:474px"></div>
<svg style="left:34px;top:474px" width="13" height="13" viewBox="0 0 13 13"><path d="M2.6 7.1 L5.4 9.5 L10.6 3.8" stroke="#777" stroke-width="1.25" fill="none"/></svg>
<span class="t m" style="left:95.69px;top:476px;font-size:11.5px;-webkit-text-stroke:0.12px #000000;color:#000000;transform:scaleX(0.9665);">Kyle</span>
<span class="t m" style="left:159.42px;top:476px;font-size:11.5px;-webkit-text-stroke:0.12px #000000;color:#000000;transform:scaleX(0.9625);">Rich</span>
<div class="c" style="left:206px;top:468px;width:131px;height:26px"><span class="t m" style="left:0.3px;top:8px;font-size:11.5px;-webkit-text-stroke:0.12px #000000;color:#000000;transform:scaleX(1.0300);">kylerichgolfacademy@ya</span></div>
<span class="t m" style="left:422.79px;top:476px;font-size:11.5px;-webkit-text-stroke:0.12px #000000;color:#000000;transform:scaleX(1.0270);">216510</span>
<span class="t m" style="left:495.4px;top:476px;font-size:11.5px;-webkit-text-stroke:0.12px #000000;color:#000000;transform:scaleX(1.0452);">M541474249</span>
<span class="t m" style="left:783.2px;top:476px;font-size:11.5px;-webkit-text-stroke:0.12px #000000;color:#000000;transform:scaleX(1.0097);">5.00</span>
<div class="c" style="left:830px;top:468px;width:87px;height:26px"><span class="t" style="left:0.1px;top:8px;font-size:11.5px;-webkit-text-stroke:0.12px #000000;color:#000000;"><span class="w m" style="width:39.8px;transform:scaleX(1.0045);">Primary</span> <span class="w m" style="width:42.96px;margin-left:0.04px;transform:scaleX(1.0335);">Account</span></span></div>
<span class="t m" style="left:937.01px;top:476px;font-size:11.5px;-webkit-text-stroke:0.12px #000000;color:#000000;transform:scaleX(1.0208);">Active</span>
</section>
<footer class="g footer">
<div style="left:2px;top:589px;width:1000px;height:1px;background:#ababab;"></div>
<div class="fb" style="left:387px;top:601px;"></div>
<span class="t m" style="left:407.32px;top:608px;font-size:13.5px;-webkit-text-stroke:0.15px #000;transform:scaleX(0.9515);">Back</span>
<div class="fb dis" style="left:467px;top:601px;"></div>
<span class="t m" style="left:487.12px;top:608px;font-size:13.5px;-webkit-text-stroke:0.15px #b0b0b0;color:#b0b0b0;transform:scaleX(1.0429);">Next</span>
<div class="fb" style="left:547px;top:601px;"></div>
<span class="t m" style="left:563.79px;top:608px;font-size:13.5px;-webkit-text-stroke:0.15px #000;transform:scaleX(1.0547);">Apply</span>
</footer>
</div></body></html>
